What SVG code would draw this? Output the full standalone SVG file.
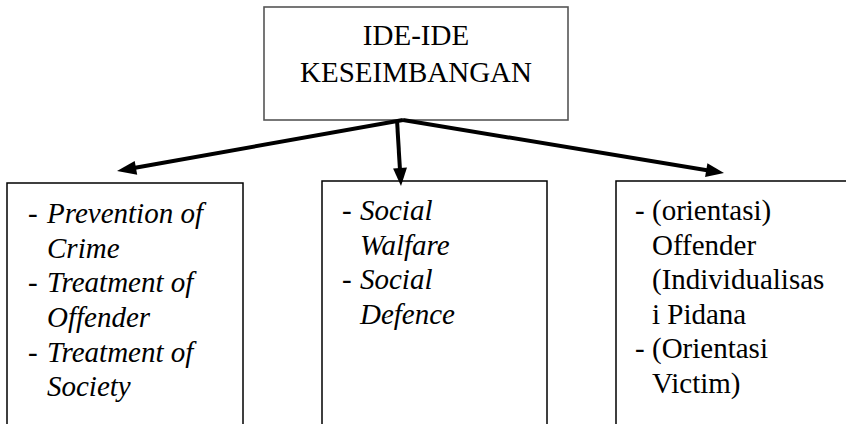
<svg xmlns="http://www.w3.org/2000/svg" width="846" height="424" viewBox="0 0 846 424">
<style>
  .box { fill: #ffffff; stroke: #000000; stroke-width: 1.5; }
  .topbox { fill: #ffffff; stroke: #555555; stroke-width: 1.6; }
  .t { font-family: 'Times New Roman', Times, Tinos, 'Liberation Serif', 'DejaVu Serif', 'Noto Serif', serif; font-size: 29px; fill: #000000; }
  .i { font-style: italic; }
  .conn line { stroke: #000000; stroke-width: 4; }
  .conn polygon { fill: #000000; }
</style>
<rect width="846" height="424" fill="#ffffff"/>
<g id="node-top">
  <rect class="topbox" x="264" y="7" width="304" height="113"/>
  <text class="t" x="416" y="45" text-anchor="middle">IDE-IDE</text>
  <text class="t" x="416" y="82" text-anchor="middle">KESEIMBANGAN</text>
</g>
<g id="node-left">
  <rect class="box" x="7" y="183" width="236" height="260"/>
  <text class="t" x="28" y="223">-</text>
  <text class="t i" x="47" y="223">Prevention of</text>
  <text class="t i" x="47" y="258">Crime</text>
  <text class="t" x="28" y="292">-</text>
  <text class="t i" x="47" y="292">Treatment of</text>
  <text class="t i" x="47" y="327">Offender</text>
  <text class="t" x="28" y="362">-</text>
  <text class="t i" x="47" y="362">Treatment of</text>
  <text class="t i" x="47" y="396">Society</text>
</g>
<g id="node-middle">
  <rect class="box" x="322" y="181" width="225" height="260"/>
  <text class="t" x="342" y="220">-</text>
  <text class="t i" x="360" y="220">Social</text>
  <text class="t i" x="360" y="255">Walfare</text>
  <text class="t" x="342" y="289">-</text>
  <text class="t i" x="360" y="289">Social</text>
  <text class="t i" x="360" y="324">Defence</text>
</g>
<g id="node-right">
  <rect class="box" x="616" y="181" width="260" height="260"/>
  <text class="t" x="635" y="220">-</text>
  <text class="t" x="652" y="220">(orientasi)</text>
  <text class="t" x="652" y="255">Offender</text>
  <text class="t" x="652" y="289">(Individualisas</text>
  <text class="t" x="652" y="324">i Pidana</text>
  <text class="t" x="635" y="358">-</text>
  <text class="t" x="652" y="358">(Orientasi</text>
  <text class="t" x="652" y="393">Victim)</text>
</g>
<g id="connectors" class="conn">
  <line x1="403" y1="120" x2="131" y2="168.5"/>
  <polygon points="117,171 134.7,160.9 137.2,174.7"/>
  <line x1="397" y1="120" x2="400.1" y2="172"/>
  <polygon points="401,186 393.1,168.5 407,167.6"/>
  <line x1="403" y1="120" x2="710" y2="170.7"/>
  <polygon points="724,173 707.4,163.2 705.1,177"/>
</g>
</svg>
